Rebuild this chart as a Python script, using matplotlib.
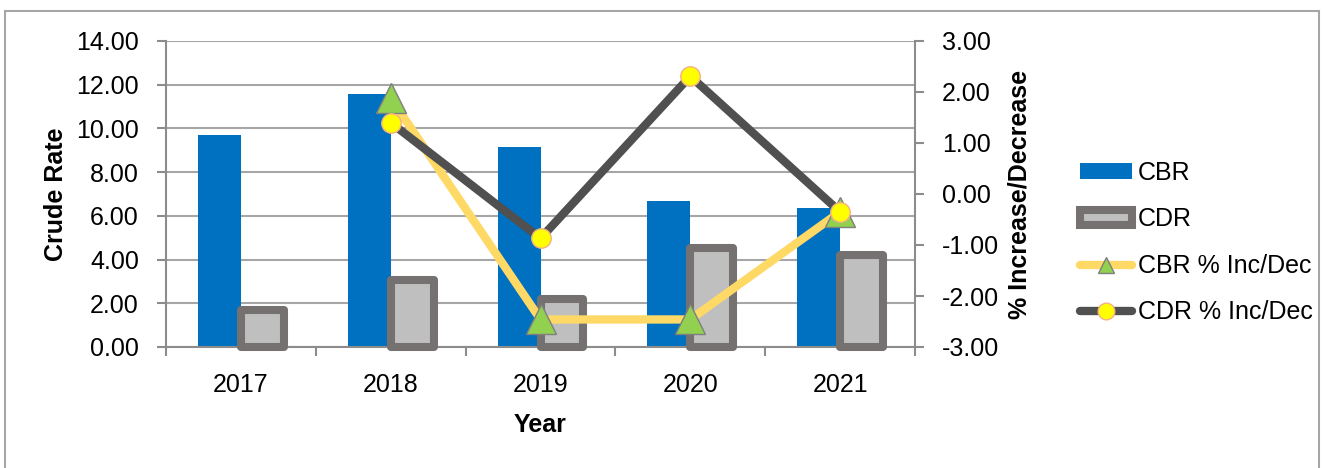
import matplotlib
matplotlib.use("Agg")
import matplotlib.pyplot as plt
import numpy as np
from matplotlib.lines import Line2D
from matplotlib.patches import Patch, Rectangle

plt.rcParams["font.family"] = ["Liberation Sans", "DejaVu Sans"]
plt.rcParams["font.size"] = 18

years = ["2017", "2018", "2019", "2020", "2021"]
cbr = [9.70, 11.57, 9.15, 6.68, 6.34]
cdr = [1.69, 3.07, 2.20, 4.53, 4.19]
cbr_change = [np.nan, 1.88, -2.46, -2.46, -0.35]
cdr_change = [np.nan, 1.40, -0.87, 2.31, -0.35]
left_ticks = [0, 2, 4, 6, 8, 10, 12, 14]
right_ticks = [-3, -2, -1, 0, 1, 2, 3]

BLUE = "#0070C0"
BAR_GREY = "#BFBFBF"
BAR_EDGE = "#767171"
YELLOW_LINE = "#FFD966"
DARK_LINE = "#505050"
GRID = "#A6A6A6"
AXIS = "#8C8C8C"

fig = plt.figure(figsize=(13.24, 4.68), dpi=100)
ax = fig.add_axes([166 / 1324, 1 - 347 / 468, 749 / 1324, 306 / 468])
x = np.arange(len(years))
w = 0.287

# crude rates as paired columns on the left axis
ax.bar(x - w / 2, cbr, width=w, color=BLUE, zorder=2)
ax.bar(x + w / 2, cdr, width=w, color=BAR_GREY, edgecolor=BAR_EDGE,
       linewidth=5.8, joinstyle="round", zorder=3, clip_on=False)

ax.set_xlim(-0.5, len(years) - 0.5)
ax.set_ylim(0, 14)
ax.set_yticks(left_ticks, [f"{v:.2f}" for v in left_ticks])
ax.set_xticks(x, years)
ax.set_xticks(np.arange(-0.5, len(years)), minor=True)
ax.tick_params(axis="x", which="major", length=0, pad=19)
ax.tick_params(axis="x", which="minor", length=6.5, width=1.5, color=AXIS)
ax.tick_params(axis="y", length=6.5, width=1.5, color=AXIS, pad=13)
ax.yaxis.grid(True, color=GRID, linewidth=1.5)
ax.set_axisbelow(True)
for side in ["top", "right"]:
    ax.spines[side].set_visible(False)
for side in ["left", "bottom"]:
    ax.spines[side].set_color(AXIS)
    ax.spines[side].set_linewidth(1.5)

ax.set_ylabel("Crude Rate", fontweight="bold")
ax.yaxis.set_label_coords(-0.147, 0.5)
ax.yaxis.label.set_va("center")
ax.set_xlabel("Year", fontweight="bold")
ax.xaxis.set_label_coords(0.5, -0.255)
ax.xaxis.label.set_va("center")

# percentage change on the right axis
ax2 = ax.twinx()
ax2.plot(x, cbr_change, color=YELLOW_LINE, linewidth=6, marker="^", markersize=21.5,
         markerfacecolor="#92D050", markeredgecolor="#7F7F7F", markeredgewidth=1,
         solid_joinstyle="round", zorder=4)
ax2.plot(x, cdr_change, color=DARK_LINE, linewidth=6, marker="o", markersize=14,
         markerfacecolor="#FFFF00", markeredgecolor="#F4B183", markeredgewidth=1,
         solid_joinstyle="round", zorder=5)
ax2.set_ylim(-3, 3)
ax2.set_yticks(right_ticks, [f"{v:.2f}" for v in right_ticks])
ax2.tick_params(axis="y", length=6.5, width=1.5, color=AXIS, pad=13)
for side in ["top", "left", "bottom"]:
    ax2.spines[side].set_visible(False)
ax2.spines["right"].set_color(AXIS)
ax2.spines["right"].set_linewidth(1.5)
ax2.set_ylabel("% Increase/Decrease", fontweight="bold", rotation=90)
ax2.yaxis.set_label_coords(1.14, 0.5)
ax2.yaxis.label.set_va("center")

handles = [
    Patch(facecolor=BLUE, edgecolor="none", label="CBR"),
    Patch(facecolor=BAR_GREY, edgecolor=BAR_EDGE, linewidth=5.8, joinstyle="round", label="CDR"),
    Line2D([0], [0], color=YELLOW_LINE, linewidth=6, solid_capstyle="round", marker="^",
           markersize=12, markerfacecolor="#92D050", markeredgecolor="#7F7F7F",
           markeredgewidth=1, label="CBR % Inc/Dec"),
    Line2D([0], [0], color=DARK_LINE, linewidth=6, solid_capstyle="round", marker="o",
           markersize=12, markerfacecolor="#FFFF00", markeredgecolor="#F4B183",
           markeredgewidth=1, label="CDR % Inc/Dec"),
]
fig.legend(handles=handles, loc="center left", bbox_to_anchor=(1080 / 1324, 1 - 242.5 / 468),
           frameon=False, handlelength=2.08, handleheight=0.56, handletextpad=0.24,
           labelspacing=0.9, borderpad=0, borderaxespad=0)

# thin frame around the whole chart
fig.patches.append(Rectangle((5 / 1324, -0.05), 1314 / 1324, 1.05 - 11 / 468, transform=fig.transFigure,
                             fill=False, edgecolor="#A6A6A6", linewidth=1.5))

fig.savefig("out.png", dpi=100)
